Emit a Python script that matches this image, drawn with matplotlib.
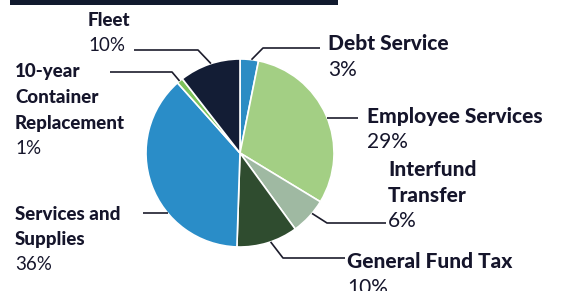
import numpy as np
import matplotlib
matplotlib.use("Agg")
import matplotlib.pyplot as plt
from matplotlib.patches import Rectangle

plt.rcParams['font.family'] = ['Lato', 'DejaVu Sans']

# data (clockwise from top)
categories = ["Debt Service", "Employee Services", "Interfund Transfer",
              "General Fund Tax", "Services and Supplies",
              "10-year Container Replacement", "Fleet"]
values = [3, 29, 6, 10, 36, 1, 10]
colors = ["#2b8cc4", "#a3cf84", "#9fb9a2", "#2f4c2f",
          "#2a8dc8", "#7dc25a", "#131d35"]

# label text split into lines (bold lines, then percent)
label_lines = [["Debt Service"], ["Employee Services"], ["Interfund", "Transfer"],
               ["General Fund Tax"], ["Services and", "Supplies"],
               ["10-year", "Container", "Replacement"], ["Fleet"]]

W, H = 570, 291
CX, CY, R = 240, 153, 94
TXT = "#15152b"
LINE = "#1c1c2c"
DY = 25.5

# layout: text top-left (px), leader elbow and end (px), attach angle on pie
text_pos = [(328, 44), (367, 117), (388, 170), (347, 262), (15, 214), (15, 72), (88, 20)]
elbows = [(263, 48), None, (327, 223), (283, 258), None, (172, 72), (198, 50)]
ends = [(320, 48), (358, 118), (386, 223), (345, 258), (143, 213), (110, 72), (134, 50)]
attach = [7, 68, 130, 161, 230, 320, 342]


def py(y):
    return H - y


fig = plt.figure(figsize=(W / 100, H / 100), dpi=100)
ax = fig.add_axes([0, 0, 1, 1])

ax.pie(values, colors=colors, startangle=90, counterclock=False,
       center=(CX, py(CY)), radius=R,
       wedgeprops=dict(edgecolor="white", linewidth=1.2))
ax.set_xlim(0, W)
ax.set_ylim(0, H)
ax.set_aspect("equal")
ax.axis("off")

# top bar
ax.add_patch(Rectangle((10, py(5)), 328, 5, color="#111a2e", lw=0))

for i, lines in enumerate(label_lines):
    a = np.deg2rad(attach[i])
    px, pyy = CX + R * np.sin(a), CY - R * np.cos(a)
    if elbows[i] is None:
        # horizontal line: intersect circle at that height
        dy = ends[i][1] - CY
        dx = np.sqrt(max(R * R - dy * dy, 0))
        sx = CX + dx if ends[i][0] > CX else CX - dx
        pts = [(sx, ends[i][1]), ends[i]]
    else:
        pts = [(px, pyy), elbows[i], ends[i]]
    xs = [p[0] for p in pts]
    ys = [py(p[1]) for p in pts]
    ax.plot(xs, ys, color=LINE, lw=1.2, solid_capstyle="butt")

    tx, ty = text_pos[i]
    fs = 15 if tx > CX else 13.5
    for j, ln in enumerate(lines):
        ax.text(tx, py(ty + j * DY), ln, fontsize=fs, fontweight="black",
                color=TXT, ha="left", va="center")
    ax.text(tx, py(ty + len(lines) * DY), f"{values[i]}%", fontsize=fs,
            color=TXT, ha="left", va="center")

fig.savefig("out.png", dpi=100, facecolor="white")
